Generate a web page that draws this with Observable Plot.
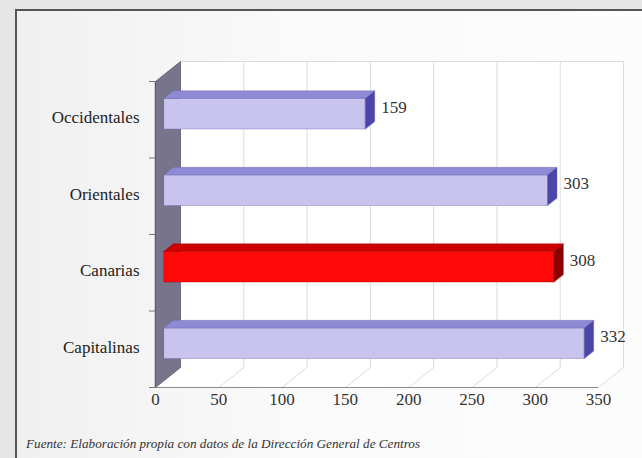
<!DOCTYPE html>
<html>
<head>
<meta charset="utf-8">
<script src="https://cdn.jsdelivr.net/npm/d3@7"></script>
<script src="https://cdn.jsdelivr.net/npm/@observablehq/plot@0.6"></script>
<style>
  html, body { margin: 0; padding: 0; }
  body { width: 642px; height: 458px; overflow: hidden; background: #e6e6e6; position: relative; font-family: "Liberation Serif", serif; }
  #frame { position: absolute; left: 15px; top: 9px; width: 700px; height: 500px;
    border-top: 2px solid #555; border-left: 2px solid #555;
    background: linear-gradient(to right, #f0f0f0, #fafafa 40%, #fdfdfd); }
  #chart { position: absolute; left: 0; top: 0; }
  #caption { position: absolute; left: 26px; top: 436px; font-family: "Liberation Serif", serif; font-style: italic; font-size: 13.2px; color: #333; }
</style>
</head>
<body>
<div id="frame"></div>
<div id="chart"></div>
<div id="caption">Fuente: Elaboración propia con datos de la Dirección General de Centros</div>
<script>
// Data (bottom to top)
const categories = ["Capitalinas", "Canarias", "Orientales", "Occidentales"];
const values = [332, 308, 303, 159];
const highlight = ["Canarias"];
const xTicks = [0, 50, 100, 150, 200, 250, 300, 350];

const W = 642, H = 430;
const mL = 155, mR = 44, mT = 81, mB = 43;
const kx = (W - mL - mR) / 350;          // px per x unit
const ky = (H - mT - mB) / 4;            // px per y unit
const DX = 25 / kx, DY = 20 / ky;        // depth vector (data units)
const P = (x, y, t) => ({x: x + t * DX, y: y + t * DY});

const t0 = 0.34, t1 = 0.72, b0 = 0.29, b1 = 0.69;

// walls
const backWall = [P(0,0,1), P(350,0,1), P(350,4,1), P(0,4,1)];
const floor = [P(0,0,0), P(350,0,0), P(350,0,1), P(0,0,1)];
const leftWall = [P(0,0,0), P(0,0,1), P(0,4,1), P(0,4,0)];
const grid = [];
xTicks.forEach((v, k) => {
  if (v > 0) {
    grid.push({...P(v,0,0), id: "f"+k}, {...P(v,0,1), id: "f"+k});
    grid.push({...P(v,0,1), id: "b"+k}, {...P(v,4,1), id: "b"+k});
  }
});
grid.push({...P(0,4,1), id: "top"}, {...P(350,4,1), id: "top"});

// bars
const faces = {front: [], top: [], side: []};
categories.forEach((c, i) => {
  const v = values[i];
  const hl = highlight.includes(c);
  const y0 = i + b0, y1 = i + b1;
  const add = (kind, pts) => pts.forEach(p => faces[kind].push({...p, id: c, hl}));
  add("front", [P(0,y0,t0), P(v,y0,t0), P(v,y1,t0), P(0,y1,t0)]);
  add("top", [P(0,y1,t0), P(v,y1,t0), P(v,y1,t1), P(0,y1,t1)]);
  add("side", [P(v,y0,t0), P(v,y1,t0), P(v,y1,t1), P(v,y0,t1)]);
});
const colors = {
  front: ["#c8c4ee", "#ff0808"],
  top: ["#8e8ad6", "#cc0000"],
  side: ["#4a47a8", "#8a0000"]
};
const faceMarks = [];
["front", "top", "side"].forEach(kind => {
  [false, true].forEach(hl => {
    faceMarks.push(Plot.line(faces[kind].filter(d => d.hl === hl), {
      x: "x", y: "y", z: "id", curve: "linear-closed",
      fill: colors[kind][hl ? 1 : 0],
      stroke: hl ? "#a00000" : "#6e6ab0", strokeWidth: 0.6, strokeOpacity: 0.7
    }));
  });
});

const labels = categories.map((c, i) => ({c, v: values[i], y: i + 0.5}));

const chart = Plot.plot({
  width: W, height: H,
  marginLeft: mL, marginRight: mR, marginTop: mT, marginBottom: mB,
  style: {background: "transparent", fontFamily: "Liberation Serif, serif", overflow: "visible"},
  x: {domain: [0, 350], label: null},
  y: {domain: [0, 4], label: null},
  marks: [
    Plot.line(backWall, {x: "x", y: "y", curve: "linear-closed", fill: "#ffffff", stroke: "none"}),
    Plot.line(floor, {x: "x", y: "y", curve: "linear-closed", fill: "#ffffff", stroke: "none"}),
    Plot.line(grid, {x: "x", y: "y", z: "id", stroke: "#dcdcdc", strokeWidth: 1}),
    Plot.line(leftWall, {x: "x", y: "y", curve: "linear-closed", fill: "#77748c", stroke: "#5e5b70", strokeWidth: 0.8}),
    Plot.ruleY([0], {x1: 0, x2: 350, stroke: "#8a8a8a", strokeWidth: 1}),
    Plot.ruleX([0], {y1: 0, y2: 4, stroke: "#5e5b70", strokeWidth: 1}),
    Plot.axisY({ticks: [0, 1, 2, 3, 4], tickFormat: () => "", tickSize: 6, stroke: "#777", label: null}),
    Plot.axisX({ticks: xTicks, tickFormat: d => String(d), tickSize: 0, tickPadding: 5, label: null,
      fontSize: 17, fill: "#333", fontFamily: "Liberation Serif, serif"}),
    ...faceMarks,
    Plot.text(labels, {x: () => 0, y: "y", text: "c", textAnchor: "end", dx: -16, dy: -2,
      fontSize: 17, fill: "#222", fontFamily: "Liberation Serif, serif"}),
    Plot.text(labels, {x: "v", y: "y", text: d => String(d.v), textAnchor: "start", dx: 24.5, dy: -12.5,
      fontSize: 17, fill: "#333", fontFamily: "Liberation Serif, serif"})
  ]
});
document.getElementById("chart").appendChild(chart);
</script>
</body>
</html>
